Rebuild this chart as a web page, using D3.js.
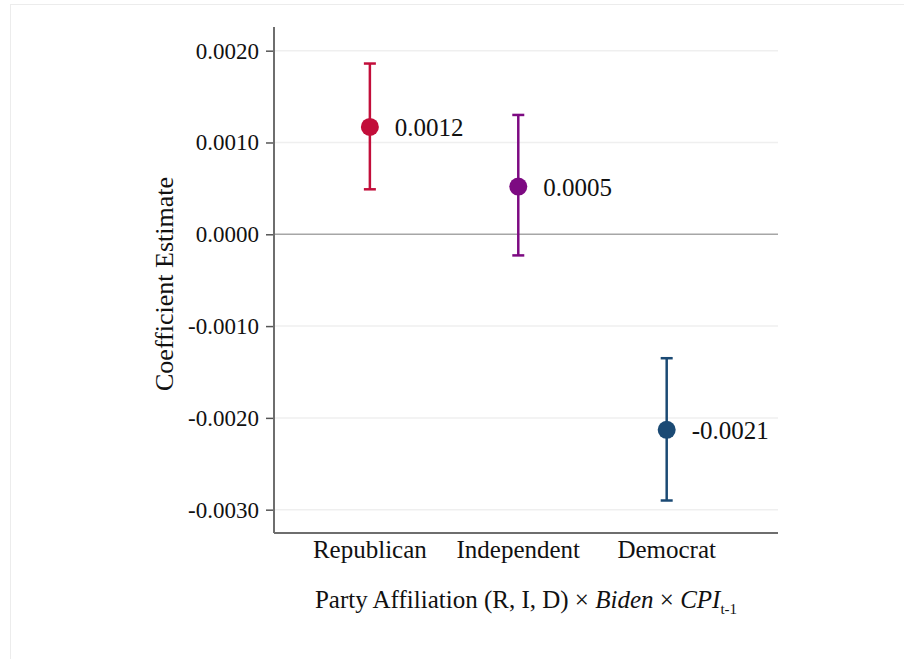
<!DOCTYPE html>
<html>
<head>
<meta charset="utf-8">
<script src="https://cdn.jsdelivr.net/npm/d3@7"></script>
<style>
  body { margin: 0; background: #fff; }
  text { font-family: "Liberation Serif", "Times New Roman", serif; fill: #111; }
</style>
</head>
<body>
<div id="chart"></div>
<script>
// data
const parties = ["Republican", "Independent", "Democrat"];
const estimates = [0.00117, 0.00052, -0.00213];
const ciLow = [0.00049, -0.00023, -0.00290];
const ciHigh = [0.00186, 0.00130, -0.00135];
const estLabels = ["0.0012", "0.0005", "-0.0021"];
const colors = ["#c20e3a", "#7d0a82", "#1b4a74"];
const yTicks = [0.002, 0.001, 0, -0.001, -0.002, -0.003];

const W = 904, H = 659;
const plotLeft = 274, plotRight = 778, plotTop = 27, plotBottom = 533;

const svg = d3.select("#chart").append("svg")
  .attr("width", W).attr("height", H);

// faint frame
svg.append("rect")
  .attr("x", 10.5).attr("y", 4.5)
  .attr("width", W - 8).attr("height", H)
  .attr("fill", "none").attr("stroke", "#ececec");

const x = d3.scaleLinear().domain([0.354, 3.75]).range([plotLeft, plotRight]);
const y = d3.scaleLinear().domain([-0.003254, 0.002258]).range([plotBottom, plotTop]);

// gridlines
svg.append("g")
  .selectAll("line")
  .data(yTicks.filter(d => d !== 0)).enter()
  .append("line")
  .attr("x1", plotLeft).attr("x2", plotRight)
  .attr("y1", d => y(d)).attr("y2", d => y(d))
  .attr("stroke", "#efefef").attr("stroke-width", 1.5);

// zero line
svg.append("line")
  .attr("x1", plotLeft).attr("x2", plotRight)
  .attr("y1", y(0)).attr("y2", y(0))
  .attr("stroke", "#a6a6a6").attr("stroke-width", 1.5);

// y axis
const yAxis = svg.append("g")
  .attr("transform", "translate(" + plotLeft + ",0)")
  .call(d3.axisLeft(y).tickValues(yTicks).tickSize(8).tickPadding(7)
    .tickFormat(d => d3.format(".4f")(d).replace("−", "-")));
yAxis.select(".domain").remove();
yAxis.selectAll(".tick line").attr("stroke", "#555").attr("stroke-width", 1.5);
yAxis.selectAll("text")
  .style("font-family", "'Liberation Serif', serif")
  .style("font-size", "23px").attr("fill", "#111");

// axis lines
svg.append("line")
  .attr("x1", plotLeft).attr("x2", plotLeft).attr("y1", plotTop).attr("y2", plotBottom)
  .attr("stroke", "#6e6e6e").attr("stroke-width", 2);
svg.append("line")
  .attr("x1", plotLeft).attr("x2", plotRight).attr("y1", plotBottom).attr("y2", plotBottom)
  .attr("stroke", "#6e6e6e").attr("stroke-width", 2);

// category labels
svg.append("g")
  .selectAll("text")
  .data(parties).enter()
  .append("text")
  .attr("x", (d, i) => x(i + 1))
  .attr("y", 558)
  .attr("text-anchor", "middle")
  .style("font-size", "25px")
  .text(d => d);

// error bars
const bars = svg.append("g")
  .selectAll("g")
  .data(parties).enter()
  .append("g");

bars.append("line")
  .attr("x1", (d, i) => x(i + 1)).attr("x2", (d, i) => x(i + 1))
  .attr("y1", (d, i) => y(ciLow[i])).attr("y2", (d, i) => y(ciHigh[i]))
  .attr("stroke", (d, i) => colors[i]).attr("stroke-width", 2.5);

bars.append("line")
  .attr("x1", (d, i) => x(i + 1) - 6).attr("x2", (d, i) => x(i + 1) + 6)
  .attr("y1", (d, i) => y(ciHigh[i])).attr("y2", (d, i) => y(ciHigh[i]))
  .attr("stroke", (d, i) => colors[i]).attr("stroke-width", 2.5);

bars.append("line")
  .attr("x1", (d, i) => x(i + 1) - 6).attr("x2", (d, i) => x(i + 1) + 6)
  .attr("y1", (d, i) => y(ciLow[i])).attr("y2", (d, i) => y(ciLow[i]))
  .attr("stroke", (d, i) => colors[i]).attr("stroke-width", 2.5);

bars.append("circle")
  .attr("cx", (d, i) => x(i + 1))
  .attr("cy", (d, i) => y(estimates[i]))
  .attr("r", 9)
  .attr("fill", (d, i) => colors[i]);

bars.append("text")
  .attr("x", (d, i) => x(i + 1) + 25)
  .attr("y", (d, i) => y(estimates[i]) + 9)
  .style("font-size", "25px")
  .text((d, i) => estLabels[i]);

// y axis title
svg.append("text")
  .attr("transform", "translate(173," + ((plotTop + plotBottom) / 2 + 4) + ") rotate(-90)")
  .attr("text-anchor", "middle")
  .style("font-size", "26px")
  .text("Coefficient Estimate");

// x axis title
const xt = svg.append("text")
  .attr("x", (plotLeft + plotRight) / 2)
  .attr("y", 608)
  .attr("text-anchor", "middle")
  .style("font-size", "25px");
xt.append("tspan").text("Party Affiliation (R, I, D) × ");
xt.append("tspan").style("font-style", "italic").text("Biden");
xt.append("tspan").text(" × ");
xt.append("tspan").style("font-style", "italic").text("CPI");
xt.append("tspan").attr("dy", 6).style("font-size", "15px").text("t-1");
</script>
</body>
</html>
